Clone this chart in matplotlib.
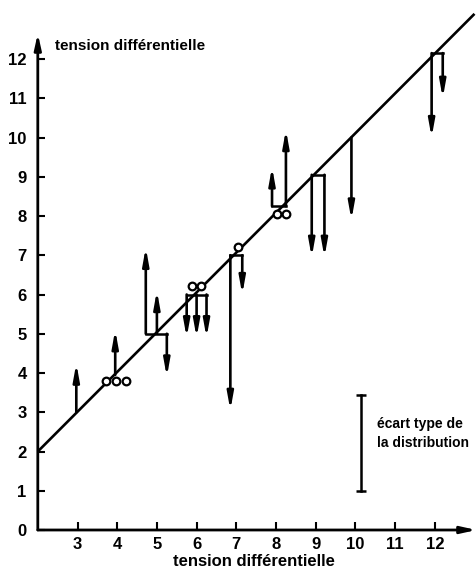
import matplotlib
matplotlib.use("Agg")
import matplotlib.pyplot as plt
from matplotlib import font_manager

names = {f.name for f in font_manager.fontManager.ttflist}
fam = "Liberation Sans" if "Liberation Sans" in names else "DejaVu Sans"
plt.rcParams['font.family'] = [fam, 'DejaVu Sans']
plt.rcParams['font.weight'] = 'bold'

# ---- data ----
x_ticks = [3, 4, 5, 6, 7, 8, 9, 10, 11, 12]
y_ticks = list(range(0, 13))

line_x = [2.0, 13.0]
line_y = [2.0, 13.15]

obs_x     = [2.97, 3.95, 4.72, 5.00, 5.25, 5.75, 6.00, 6.25, 6.85, 7.15, 7.90, 8.25, 8.90, 9.22, 9.90, 11.92, 12.20]
obs_start = [3.00, 3.95, 5.00, 5.00, 5.00, 6.00, 6.00, 6.00, 7.00, 7.00, 8.25, 8.25, 9.05, 9.05, 10.0, 12.15, 12.15]
obs_end   = [4.25, 5.10, 7.20, 6.10, 3.90, 4.90, 4.90, 4.90, 3.05, 6.00, 9.25, 10.2, 6.95, 6.95, 7.90, 10.00, 11.00]
obs_group = [0, 1, 2, 2, 2, 3, 3, 3, 4, 4, 5, 5, 6, 6, 7, 8, 8]

circ_x = [3.72, 3.97, 4.21, 5.88, 6.12, 7.05, 8.03, 8.26]
circ_y = [3.80, 3.80, 3.80, 6.22, 6.22, 7.20, 8.05, 8.05]

sd_x = 10.15
sd_lo, sd_hi = 1.0, 3.45

# ---- figure ----
W, H = 477, 573
fig = plt.figure(figsize=(W / 100, H / 100), dpi=100)
x0_px, unit_x = 37.8, 39.7
y0_px, unit_y = 530.0, 39.25
xlim = (2.0, 13.05)
ylim = (0.0, 12.65)
ax = fig.add_axes([x0_px / W, (H - y0_px) / H,
                   (xlim[1] - xlim[0]) * unit_x / W,
                   (ylim[1] - ylim[0]) * unit_y / H])
ax.set_xlim(*xlim)
ax.set_ylim(*ylim)
for s in ax.spines.values():
    s.set_visible(False)

axis_arrow = dict(arrowstyle='-|>,head_length=0.45,head_width=0.1', lw=2.0,
                  color='black', shrinkA=0, shrinkB=0, mutation_scale=20)
ax.annotate('', xy=(1, 0), xytext=(0, 0), xycoords='axes fraction',
            arrowprops=axis_arrow, annotation_clip=False)
ax.annotate('', xy=(0, 1), xytext=(0, 0), xycoords='axes fraction',
            arrowprops=axis_arrow, annotation_clip=False)

ax.set_xticks(x_ticks)
ax.set_xticklabels([str(v) for v in x_ticks])
ax.set_yticks(y_ticks)
ax.set_yticklabels([str(v) for v in y_ticks])
ax.tick_params(axis='x', direction='in', length=6, width=1.5, pad=5, labelsize=12)
ax.tick_params(axis='y', direction='in', length=5, width=1.5, pad=8, labelsize=12)

# diagonal
ax.plot(line_x, line_y, color='black', lw=1.9, solid_capstyle='butt', clip_on=False)

# group brackets
groups = {}
for xv, ys, g in zip(obs_x, obs_start, obs_group):
    groups.setdefault(g, []).append((xv, ys))
for g, pts in groups.items():
    if len(pts) > 1:
        xs = [p[0] for p in pts]
        ax.plot([min(xs), max(xs)], [pts[0][1]] * 2, color='black', lw=1.8,
                solid_capstyle='projecting', clip_on=False)

# arrows
arr = dict(arrowstyle='-|>,head_length=0.5,head_width=0.09', lw=1.9,
           color='black', shrinkA=0, shrinkB=0, mutation_scale=20)
for xv, ys, ye in zip(obs_x, obs_start, obs_end):
    ax.annotate('', xy=(xv, ye), xytext=(xv, ys), arrowprops=arr)

# circles
ax.plot(circ_x, circ_y, 'o', mfc='white', mec='black', mew=1.6, ms=5.5, ls='none')

# std bar
ax.plot([sd_x, sd_x], [sd_lo, sd_hi], color='black', lw=1.8)
ax.plot([sd_x, sd_x], [sd_lo, sd_hi], '_', color='black', ms=7, mew=1.8)
ax.text(10.54, 2.45, "écart type de\nla distribution", fontsize=10,
        fontweight='bold', ha='left', va='center', linespacing=1.45)

# axis labels
ax.text(2.43, 12.33, "tension différentielle", fontsize=11, fontweight='bold',
        ha='left', va='center')
fig.text(254 / W, 1 - 561 / H, "tension différentielle", fontsize=12,
         fontweight='bold', ha='center', va='center')

fig.savefig("out.png", dpi=100)
